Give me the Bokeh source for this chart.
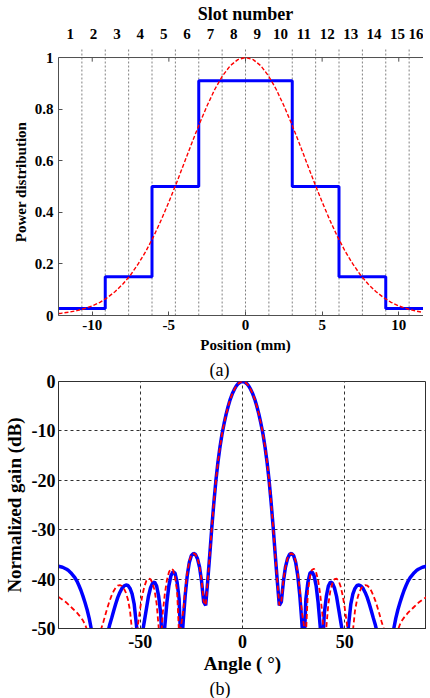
from bokeh.plotting import figure
from bokeh.models import Range1d, LinearAxis, FixedTicker, Title
from bokeh.layouts import column
from bokeh.embed import file_html
from bokeh.resources import INLINE

FONT = "Liberation Serif"

# ---------------- (a) power distribution data ----------------
slot_numbers = list(range(1, 17))
slot_edges_mm = [-12.2, -10.675, -9.15, -7.625, -6.1, -4.575, -3.05, -1.525, 0.0,
                 1.525, 3.05, 4.575, 6.1, 7.625, 9.15, 10.675, 12.2]
slot_power = [0.027, 0.027, 0.15, 0.15, 0.5, 0.5, 0.91, 0.91,
              0.91, 0.91, 0.5, 0.5, 0.15, 0.15, 0.027, 0.027]
ideal_pos_mm = [-12.2, -12.0, -11.5, -11.0, -10.5, -10.0, -9.5, -9.0, -8.5, -8.0, -7.5, -7.0,
                -6.5, -6.0, -5.5, -5.0, -4.5, -4.0, -3.5, -3.0, -2.5, -2.0, -1.5, -1.0, -0.5,
                0.0, 0.5, 1.0, 1.5, 2.0, 2.5, 3.0, 3.5, 4.0, 4.5, 5.0, 5.5, 6.0, 6.5, 7.0,
                7.5, 8.0, 8.5, 9.0, 9.5, 10.0, 10.5, 11.0, 11.5, 12.0, 12.2]
ideal_power = [0.008, 0.009, 0.013, 0.019, 0.027, 0.037, 0.051, 0.070, 0.093, 0.122, 0.157, 0.200,
               0.249, 0.306, 0.370, 0.440, 0.514, 0.591, 0.669, 0.744, 0.814, 0.877, 0.929, 0.968, 0.992,
               1.000, 0.992, 0.968, 0.929, 0.877, 0.814, 0.744, 0.669, 0.591, 0.514, 0.440, 0.370, 0.306,
               0.249, 0.200, 0.157, 0.122, 0.093, 0.070, 0.051, 0.037, 0.027, 0.019, 0.013, 0.009, 0.008]
pos_ticks = [-10, -5, 0, 5, 10]
power_ticks = [0, 0.2, 0.4, 0.6, 0.8, 1]
power_tick_labels = ["0", "0.2", "0.4", "0.6", "0.8", "1"]

# ---------------- (b) radiation pattern data (0..90 deg, symmetric) ----------------
half_angle_deg = list(range(0, 91))
gain_blue_half = [0.0, -0.1, -0.4, -0.9, -1.6, -2.5, -3.6, -5.0, -6.6, -8.5,
                  -10.6, -13.2, -16.3, -20.0, -24.5, -29.5, -35.0, -40.3, -45.3, -44.6,
                  -40.5, -37.6, -35.9, -35.0, -34.8, -35.2, -36.6, -39.2, -43.2, -48.5,
                  -55.0, -44.0, -40.6, -38.8, -38.5, -39.3, -41.3, -44.8, -49.5, -56.0,
                  -47.0, -43.5, -41.4, -40.6, -40.8, -41.8, -43.5, -46.0, -48.5, -51.0,
                  -60.0, -53.0, -48.8, -45.0, -43.0, -41.9, -41.3, -41.2, -41.4, -41.9,
                  -42.7, -43.7, -45.0, -46.4, -47.9, -49.3, -51.0, -54.0, -60.0, -65.0,
                  -70.0, -63.0, -58.0, -53.0, -50.0, -47.9, -46.2, -44.8, -43.5, -42.3,
                  -41.3, -40.4, -39.7, -39.2, -38.7, -38.3, -38.0, -37.8, -37.6, -37.5,
                  -37.4]
gain_red_half = [0.0, -0.1, -0.4, -0.9, -1.6, -2.5, -3.6, -5.0, -6.6, -8.5,
                 -10.6, -13.2, -16.3, -20.0, -24.5, -29.5, -35.0, -40.3, -45.3, -44.5,
                 -40.3, -37.5, -35.8, -35.0, -34.8, -35.1, -36.3, -38.6, -42.0, -46.5,
                 -49.3, -51.5, -42.5, -39.5, -38.1, -37.9, -38.6, -40.3, -43.0, -46.8,
                 -53.0, -49.8, -45.0, -42.3, -40.8, -40.0, -39.9, -40.3, -41.5, -43.3,
                 -45.8, -48.8, -53.0, -60.0, -50.5, -46.5, -44.2, -42.8, -41.9, -41.4,
                 -41.2, -41.3, -41.7, -42.4, -43.3, -44.4, -45.7, -47.1, -48.6, -49.9,
                 -52.0, -56.0, -62.0, -66.0, -60.0, -54.0, -50.3, -49.2, -48.4, -47.8,
                 -47.3, -46.8, -46.4, -46.0, -45.6, -45.2, -44.8, -44.5, -44.2, -43.9,
                 -43.6]
angle_ticks = [-50, 0, 50]
gain_ticks = [0, -10, -20, -30, -40, -50]

# mirror the symmetric pattern
angle_deg = [-a for a in half_angle_deg[:0:-1]] + half_angle_deg
gain_blue = gain_blue_half[:0:-1] + gain_blue_half
gain_red = gain_red_half[:0:-1] + gain_red_half

AX = "#505050"

# ================= figure (a) =================
p1 = figure(frame_width=374, frame_height=267,
            x_range=Range1d(slot_edges_mm[0], slot_edges_mm[-1]),
            y_range=Range1d(0, 1.035),
            output_backend="svg", toolbar_location=None,
            min_border_left=44, min_border_right=0, min_border_top=0, min_border_bottom=0)
p1.outline_line_color = None
p1.xgrid.visible = False
p1.ygrid.visible = False

def style_axis(ax, label_size, title_size):
    ax.major_label_text_font = FONT
    ax.major_label_text_font_style = "bold"
    ax.major_label_text_font_size = label_size
    ax.major_label_text_color = "black"
    ax.axis_label_text_font = FONT
    ax.axis_label_text_font_style = "bold"
    ax.axis_label_text_font_size = title_size
    ax.axis_label_text_color = "black"
    ax.minor_tick_line_color = None
    ax.axis_line_color = AX
    ax.major_tick_line_color = AX
    ax.major_tick_in = 4
    ax.major_tick_out = 0

xa = p1.xaxis[0]
style_axis(xa, "15px", "15px")
xa.ticker = FixedTicker(ticks=pos_ticks)
xa.major_label_overrides = {t: str(t) for t in pos_ticks}
xa.axis_label = "Position (mm)"
xa.major_label_standoff = 4
xa.axis_label_standoff = 4

ya = p1.yaxis[0]
style_axis(ya, "15px", "15px")
ya.ticker = FixedTicker(ticks=power_ticks)
ya.major_label_overrides = {t: s for t, s in zip(power_ticks, power_tick_labels)}
ya.bounds = (power_ticks[0], power_ticks[-1])
ya.axis_label = "Power distribution"
ya.major_label_standoff = 5
ya.axis_label_standoff = 3

# right frame edge (no labels)
ra = LinearAxis(ticker=FixedTicker(ticks=[]), bounds=(power_ticks[0], power_ticks[-1]))
ra.axis_line_color = AX
ra.major_tick_line_color = None
ra.minor_tick_line_color = None
p1.add_layout(ra, "right")

slot_centers = [(slot_edges_mm[i] + slot_edges_mm[i + 1]) / 2 for i in range(len(slot_numbers))]
ta = LinearAxis(ticker=FixedTicker(ticks=slot_centers))
style_axis(ta, "15px", "18px")
ta.major_label_overrides = {c: str(n) for c, n in zip(slot_centers, slot_numbers)}
ta.axis_line_color = None
ta.major_tick_line_color = None
ta.axis_label = "Slot number"
ta.major_label_standoff = 10
ta.axis_label_standoff = 2
p1.add_layout(ta, "above")

# slot boundaries (dotted)
inner_edges = slot_edges_mm[1:-1]
p1.segment(x0=inner_edges, y0=[0] * len(inner_edges), x1=inner_edges, y1=[1.035] * len(inner_edges),
           line_color="#808080", line_width=1, line_dash="2 2")
# frame top and mirrored inward ticks (top and right)
p1.line(x=[slot_edges_mm[0], slot_edges_mm[-1]], y=[power_ticks[-1]] * 2, line_color=AX, line_width=1)
p1.segment(x0=pos_ticks, y0=[1] * len(pos_ticks), x1=pos_ticks, y1=[1 - 0.016] * len(pos_ticks),
           line_color=AX, line_width=1)
p1.segment(x0=[slot_edges_mm[-1]] * len(power_ticks), y0=power_ticks,
           x1=[slot_edges_mm[-1] - 0.26] * len(power_ticks), y1=power_ticks,
           line_color=AX, line_width=1)

# quantized distribution (blue staircase)
step_x, step_y = [], []
for i, v in enumerate(slot_power):
    step_x += [slot_edges_mm[i], slot_edges_mm[i + 1]]
    step_y += [v, v]
p1.line(step_x, step_y, line_color="#0000FF", line_width=3)
# ideal distribution (red dashed)
p1.line(ideal_pos_mm, ideal_power, line_color="#FF0000", line_width=1.4, line_dash="4 2")

# ================= figure (b) =================
p2 = figure(frame_width=368, frame_height=247,
            x_range=Range1d(-90, 90), y_range=Range1d(-50, 0),
            output_backend="svg", toolbar_location=None,
            min_border_left=53, min_border_right=0, min_border_top=0, min_border_bottom=0)
p2.outline_line_color = "#303030"

# caption of panel (a), placed in the top margin of the second figure
p2.add_layout(Title(text="(a)", align="left", offset=151, text_font=FONT, text_font_style="normal",
                    text_font_size="18px", text_color="black", standoff=4), "above")

xb = p2.xaxis[0]
style_axis(xb, "18px", "19px")
xb.ticker = FixedTicker(ticks=angle_ticks)
xb.major_label_overrides = {t: str(t) for t in angle_ticks}
xb.axis_label = "Angle ( °)"
xb.major_tick_in = 0
xb.axis_line_color = "#303030"
xb.major_label_standoff = 6
xb.axis_label_standoff = 2

yb = p2.yaxis[0]
style_axis(yb, "18px", "19px")
yb.ticker = FixedTicker(ticks=gain_ticks)
yb.major_label_overrides = {t: str(t) for t in gain_ticks}
yb.axis_label = "Normalized gain (dB)"
yb.major_tick_in = 0
yb.axis_line_color = "#303030"
yb.major_label_standoff = 3
yb.axis_label_standoff = 4

for g, ticks in ((p2.xgrid[0], angle_ticks), (p2.ygrid[0], gain_ticks)):
    g.ticker = FixedTicker(ticks=ticks)
    g.grid_line_color = "#303030"
    g.grid_line_dash = "3 3"
    g.grid_line_width = 1

p2.add_layout(Title(text="(b)", align="left", offset=151, text_font=FONT, text_font_style="normal",
                    text_font_size="18px", text_color="black", standoff=0), "below")

p2.line(angle_deg, gain_blue, line_color="#0000FF", line_width=3.5)
p2.line(angle_deg, gain_red, line_color="#FF0000", line_width=1.8, line_dash="5 3")

layout = column(p1, p2)
open("out.html", "w").write(file_html(layout, INLINE))
